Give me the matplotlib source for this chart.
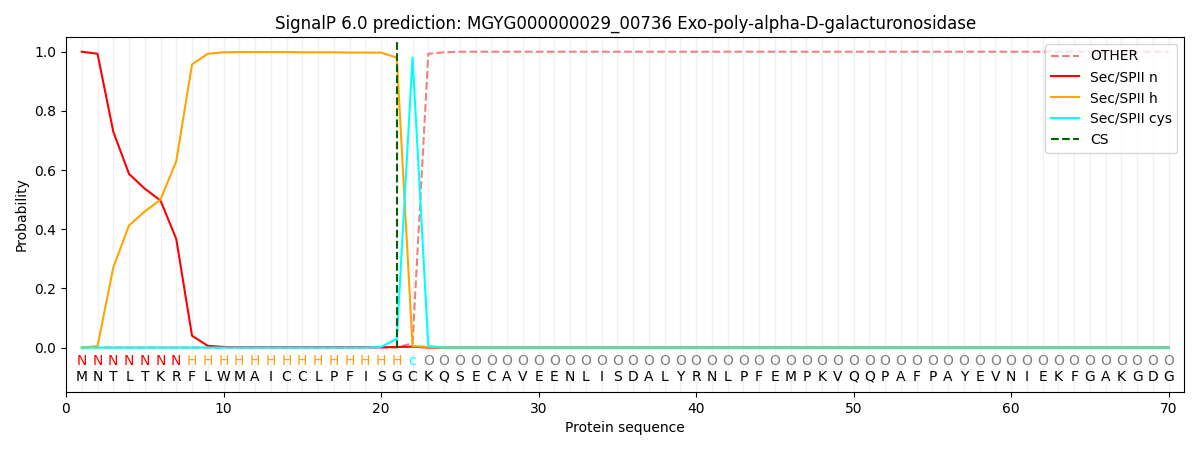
import numpy as np
import matplotlib
matplotlib.use('Agg')
import matplotlib.pyplot as plt

seq = list('MNTLTKRFLWMAICCLPFISGCKQSECAVEENLISDALYRNLPFEMPKVQQPAFPAYEVNIEKFGAKGDG')
labels = list('NNNNNNN' + 'H' * 14 + 'c' + 'O' * 48)

sp_n = [1.0, 0.993, 0.73, 0.587, 0.537, 0.497, 0.367, 0.04, 0.006, 0.002,
        0.001, 0.001, 0.001, 0.001, 0.001, 0.001, 0.001, 0.001, 0.001, 0.001,
        0.002, 0.003] + [0.0] * 48
sp_h = [0.0, 0.005, 0.27, 0.413, 0.46, 0.5, 0.63, 0.957, 0.993, 0.998,
        0.999, 0.999, 0.999, 0.999, 0.998, 0.998, 0.998, 0.997, 0.997, 0.997,
        0.98, 0.005, 0.002] + [0.0] * 47
sp_cys = [0.0] * 19 + [0.002, 0.03, 0.98, 0.005] + [0.0] * 47
other = [0.0] * 21 + [0.015, 0.993, 0.998] + [1.0] * 46
cs_pos = 21

label_colors = {'N': 'red', 'H': 'orange', 'c': 'cyan', 'O': 'gray'}

x = np.arange(1, len(seq) + 1)

fig, ax = plt.subplots(figsize=(12, 4.5), dpi=100)
for xi in x:
    ax.axvline(xi, color='lightgray', alpha=0.3, lw=1, zorder=0)

ax.plot(x, other, '--', color='lightcoral', label='OTHER')
ax.plot(x, sp_n, color='red', label='Sec/SPII n')
ax.plot(x, sp_h, color='orange', label='Sec/SPII h')
ax.plot(x, sp_cys, color='cyan', label='Sec/SPII cys')
ax.plot([cs_pos, cs_pos], [0, 1.04], color='darkgreen', ls='--', label='CS')

for xi, lab, aa in zip(x, labels, seq):
    ax.text(xi, -0.047, lab, color=label_colors[lab], ha='center', va='center', fontsize=10)
    ax.text(xi, -0.098, aa, color='black', ha='center', va='center', fontsize=10)

ax.set_xlim(0, 71)
ax.set_ylim(-0.15, 1.05)
ax.set_xlabel('Protein sequence')
ax.set_ylabel('Probability')
ax.set_title('SignalP 6.0 prediction: MGYG000000029_00736 Exo-poly-alpha-D-galacturonosidase')
ax.legend(loc='upper right')
plt.subplots_adjust(left=0.055, right=0.987, top=0.918, bottom=0.129)
plt.savefig('out.png')
